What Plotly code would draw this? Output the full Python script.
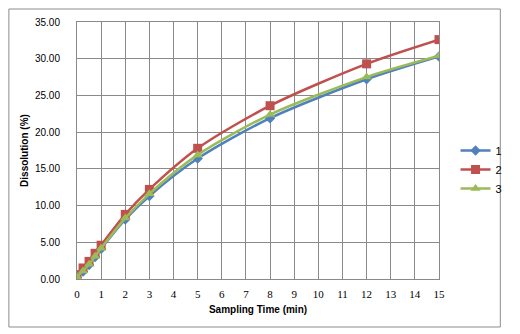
import plotly.graph_objects as go

time_min = [0, 0.25, 0.5, 0.75, 1, 2, 3, 5, 8, 12, 15]
series_names = ["1", "2", "3"]
s1 = [0.2, 1.0, 1.9, 3.0, 4.1, 8.1, 11.3, 16.4, 21.9, 27.2, 30.3]
s2 = [0.6, 1.5, 2.4, 3.5, 4.6, 8.8, 12.2, 17.8, 23.6, 29.3, 32.6]
s3 = [0.3, 1.1, 2.0, 3.1, 4.2, 8.3, 11.6, 16.9, 22.4, 27.5, 30.4]
y_ticks = [0, 5, 10, 15, 20, 25, 30, 35]
x_ticks = list(range(0, 16))

colors = ["#4F81BD", "#C0504D", "#9BBB59"]
symbols = ["diamond", "square", "triangle-up"]
sizes = [8, 9, 9]

fig = go.Figure()
for name, vals, c, sym, sz in zip(series_names, [s1, s2, s3], colors, symbols, sizes):
    fig.add_trace(go.Scatter(
        x=time_min, y=vals, name=name, mode="lines+markers",
        line=dict(color=c, width=2.5, shape="spline", smoothing=0.8),
        marker=dict(symbol=sym, size=sz, color=c),
    ))

L, R, T, B = 77, 71, 22, 55
W, H = 520, 334
pw, ph = W - L - R, H - T - B

def px_x(p):
    return (p - L) / pw

def px_y(p):
    return (H - B - p) / ph

grid_c = "#8a8a8a"
fig.update_layout(
    width=W, height=H,
    margin=dict(l=L, r=R, t=T, b=B, pad=0),
    paper_bgcolor="white", plot_bgcolor="white",
    font=dict(family="Liberation Sans", size=10, color="#000"),
    showlegend=True,
    legend=dict(
        x=px_x(466), y=px_y(136), xanchor="left", yanchor="top",
        font=dict(family="Liberation Sans", size=11, color="#000"),
        bgcolor="rgba(0,0,0,0)", itemwidth=30, tracegroupgap=0,
    ),
    xaxis=dict(
        range=[0, 15], tickmode="array", tickvals=x_ticks,
        ticktext=[str(v) for v in x_ticks],
        showgrid=True, gridcolor=grid_c, gridwidth=1,
        showline=True, linecolor=grid_c, linewidth=1, mirror=True,
        zeroline=False, ticks="", ticklabelstandoff=5,
        tickfont=dict(family="Liberation Serif", size=11),
        title=dict(text="<b>Sampling Time (min)</b>", standoff=6,
                   font=dict(family="Liberation Sans", size=10)),
    ),
    yaxis=dict(
        range=[0, 35], tickmode="array", tickvals=y_ticks,
        ticktext=[f"{v:.2f}" for v in y_ticks],
        showgrid=True, gridcolor=grid_c, gridwidth=1,
        showline=True, linecolor=grid_c, linewidth=1, mirror=True,
        zeroline=False, ticks="", ticklabelstandoff=14,
        tickfont=dict(family="Liberation Sans", size=10),
        title=dict(text="<b>Dissolution (%)</b>", standoff=4,
                   font=dict(family="Liberation Sans", size=10)),
    ),
    shapes=[dict(
        type="rect", xref="paper", yref="paper",
        x0=px_x(7), x1=px_x(512), y0=px_y(327), y1=px_y(9),
        line=dict(color="#8c8c8c", width=1), fillcolor="rgba(0,0,0,0)", layer="below",
    )],
)

fig.write_html("out.html")
